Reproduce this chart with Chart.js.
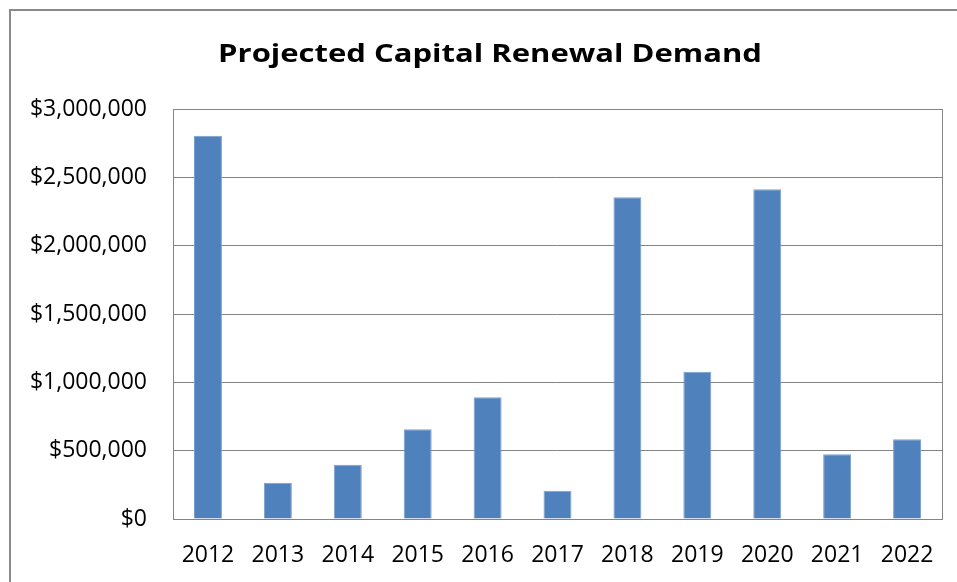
<!DOCTYPE html>
<html>
<head>
<meta charset="utf-8">
<script src="https://cdn.jsdelivr.net/npm/chart.js@4/dist/chart.umd.min.js"></script>
<style>
  html, body { margin: 0; padding: 0; background: #fff; overflow: hidden; }
  #frame { position: absolute; left: 9px; top: 9px; width: 1000px; height: 1000px;
           border-left: 2px solid #8a8a8a; border-top: 2px solid #8a8a8a; }
  #chart { position: absolute; left: 0; top: 0; }
</style>
</head>
<body>
<div id="frame"></div>
<canvas id="chart" width="957" height="582"></canvas>
<script>
var years = ["2012", "2013", "2014", "2015", "2016", "2017", "2018", "2019", "2020", "2021", "2022"];
var demand = [2805000, 266000, 397000, 656000, 890000, 207000, 2354000, 1078000, 2412000, 473000, 583000];
var yMax = 3000000;
var yStep = 500000;
var chartTitle = "Projected Capital Renewal Demand";

// outline round the plot area
var plotBox = {
  id: "plotBox",
  beforeDatasetsDraw: function (chart) {
    var a = chart.chartArea;
    var ctx = chart.ctx;
    ctx.save();
    ctx.strokeStyle = "#848484";
    ctx.lineWidth = 1;
    ctx.strokeRect(Math.round(a.left) + 0.5, Math.round(a.top) + 0.5,
      Math.round(a.right - a.left), Math.round(a.bottom - a.top));
    ctx.restore();
  }
};

// the title in the original is a wide, stretched face; draw it scaled on x
var wideTitle = {
  id: "wideTitle",
  afterDraw: function (chart) {
    var ctx = chart.ctx;
    ctx.save();
    ctx.font = "bold 25px 'Open Sans'";
    ctx.fillStyle = "#000";
    ctx.textAlign = "center";
    ctx.textBaseline = "alphabetic";
    ctx.translate(490, 62);
    ctx.scale(1.24, 1);
    ctx.fillText(chartTitle, 0, 0);
    ctx.restore();
  }
};

new Chart(document.getElementById("chart"), {
  type: "bar",
  data: {
    labels: years,
    datasets: [{
      data: demand,
      backgroundColor: "#4f81bd",
      borderColor: "#7a9fd0",
      borderWidth: 1,
      categoryPercentage: 1.0,
      barPercentage: 0.4
    }]
  },
  plugins: [plotBox, wideTitle],
  options: {
    responsive: false,
    animation: false,
    layout: { padding: { left: 12, right: 14, top: 109, bottom: 0 } },
    plugins: {
      legend: { display: false },
      tooltip: { enabled: false },
      title: { display: false }
    },
    scales: {
      x: {
        grid: { display: false, drawTicks: false },
        border: { display: false },
        ticks: {
          color: "#000",
          padding: 23,
          font: { family: "Open Sans", size: 23 }
        },
        afterFit: function (s) { s.height = 63; }
      },
      y: {
        min: 0,
        max: yMax,
        grid: { color: "#848484", lineWidth: 1, drawTicks: false },
        border: { display: false },
        ticks: {
          stepSize: yStep,
          color: "#000",
          padding: 26,
          font: { family: "Open Sans", size: 23 },
          callback: function (v) { return "$" + v.toLocaleString("en-US"); }
        },
        afterFit: function (s) { s.width = 161; }
      }
    }
  }
});
</script>
</body>
</html>
